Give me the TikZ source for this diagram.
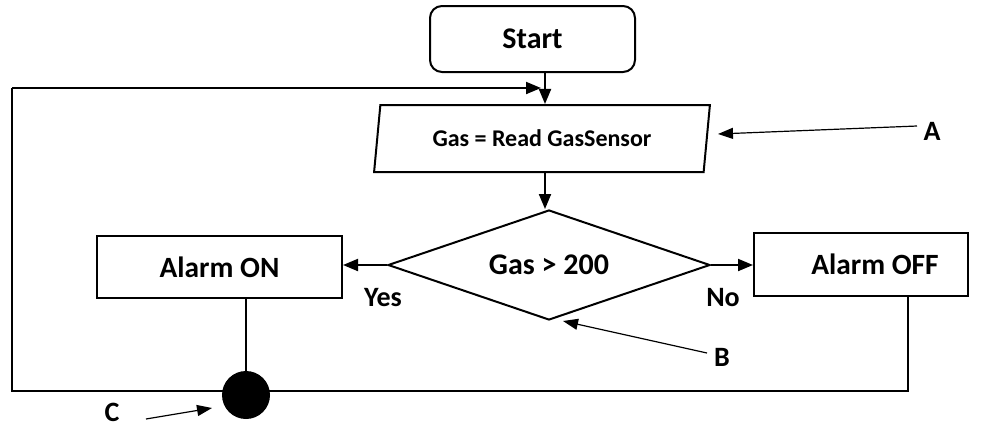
\documentclass[tikz,border=0pt]{standalone}
\usepackage{fontspec}
\setmainfont{Carlito}
\usetikzlibrary{shapes.geometric,arrows.meta}
\begin{document}
\begin{tikzpicture}[x=0.5pt,y=-0.5pt,
  every node/.style={font=\bfseries},
  bigfont/.style={font=\bfseries\fontsize{14.7}{16}\selectfont},
  flow/.style={line width=1pt},
  arr/.style={flow,-{Triangle[length=7.5pt,width=6pt]}},
  annot/.style={line width=0.6pt,-{Triangle[length=7.5pt,width=5.5pt]}},
  boxnode/.style={draw,line width=1pt,inner sep=0pt},
  lbl/.style={font=\bfseries\fontsize{14}{15}\selectfont,inner sep=1pt}]
\useasboundingbox (0,0) rectangle (992,425);
% nodes
\node[boxnode,rounded corners=6pt,minimum width=102.5pt,minimum height=33pt,font=\bfseries\fontsize{15}{16}\selectfont] (start) at (532.5,39) {Start};
\node[boxnode,shape=trapezium,trapezium left angle=76,trapezium right angle=104,trapezium stretches=true,minimum width=168pt,minimum height=33.5pt,font=\bfseries\fontsize{12}{13}\selectfont] (read) at (542,138.5) {Gas = Read GasSensor};
\node[boxnode,shape=diamond,minimum width=161pt,minimum height=55pt,aspect=2.9,font=\bfseries\fontsize{15}{16}\selectfont] (dec) at (549,265) {Gas > 200};
\node[boxnode,minimum width=122.5pt,minimum height=31pt,bigfont] (on) at (219.5,267) {Alarm ON};
\node[boxnode,minimum width=107pt,minimum height=31.5pt,bigfont] (off) at (861,264.5) {\hspace*{14pt}Alarm OFF};
\node[circle,fill=black,minimum size=24pt,inner sep=0pt] (junc) at (246,395) {};
\node[lbl] (yes) at (383,298) {Yes};
\node[lbl] (no) at (723,298) {No};
\node[lbl] (la) at (932,131) {A};
\node[lbl] (lb) at (722,357) {B};
\node[lbl] (lc) at (112,412) {C};
\coordinate (sa) at (917,126);
\coordinate (ta) at (718,134);
\coordinate (sb) at (707,353);
\coordinate (tb) at (563,321);
\coordinate (sc) at (146,419);
\coordinate (tc) at (212,408);
\coordinate (loopin) at (545,88);
\coordinate (loopend) at (541,88);
\coordinate (br) at (908,391);
\coordinate (bl) at (12,391);
\coordinate (tl) at (12,88);
% connectors
\draw[arr] (start.south -| loopin) -- (read.north -| loopin);
\draw[arr] (read.south -| loopin) -- (dec.north -| loopin);
\draw[arr] (dec.west) -- (dec.west -| on.east);
\draw[arr] (dec.east) -- (dec.east -| off.west);
\draw[flow] (junc |- on.south) -- (junc);
\draw[flow] (off.south -| br) -- (br) -- (bl) -- (tl);
\draw[arr] (tl) -- (loopend);
\draw[annot] (sa) -- (ta);
\draw[annot] (sb) -- (tb);
\draw[annot] (sc) -- (tc);
\end{tikzpicture}
\end{document}
